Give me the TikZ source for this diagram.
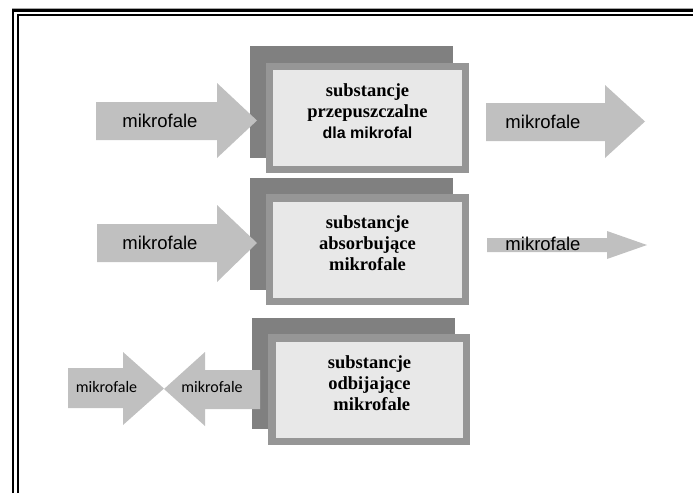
\documentclass[tikz,border=0pt]{standalone}
\usepackage{fontspec}
\setmainfont{Liberation Serif}
\newfontfamily\arialf{Liberation Sans}
\newfontfamily\arialbf{Liberation Sans Bold}
\newfontfamily\calibrif{Carlito}
\definecolor{boxdark}{HTML}{808080}
\definecolor{boxmid}{HTML}{969696}
\definecolor{boxlight}{HTML}{E8E8E8}
\definecolor{arrowgray}{HTML}{C0C0C0}
\tikzset{
  backbox/.style={fill=boxdark, draw=none},
  frontbox/.style={fill=boxmid, draw=none},
  innerbox/.style={fill=boxlight, draw=none},
  wavearrow/.style={fill=arrowgray, draw=none},
  boxtext/.style={align=center, font=\fontsize{18.5}{21}\selectfont\bfseries, inner sep=0pt},
  arrowtext/.style={font=\arialf\fontsize{18.5}{20}\selectfont, inner sep=0pt},
  smallarrowtext/.style={font=\calibrif\fontsize{16}{18}\selectfont, inner sep=0pt},
}
\begin{document}
\begin{tikzpicture}[x=1pt,y=-1pt]
\useasboundingbox (0,0) rectangle (693,493);
% frame
\draw[line width=1pt, gray!70] (12,8) -- (693,8);
\draw[line width=2.5pt, black] (13,493) -- (13,10.5) -- (693,10.5);
\draw[line width=2pt, black] (18,493) -- (18,15) -- (693,15);

% ---------- row 1 ----------
\fill[backbox] (250,46) rectangle (453,158);
\fill[wavearrow] (96,102) -- (217,102) -- (217,83) -- (257,120.5) -- (217,158) -- (217,140) -- (96,140) -- cycle;
\node[arrowtext] (a1in) at (160,121) {mikrofale};
\fill[frontbox] (266,63) rectangle (469,173);
\node[innerbox, minimum width=189pt, minimum height=96pt, inner sep=0pt] (b1) at (367.5,118) {};
\node[boxtext] (t1) at ([yshift=7pt]b1.center) {substancje\\przepuszczalne\\{\arialbf\fontsize{16}{21}\selectfont dla mikrofal}};
\fill[wavearrow] (486,103) -- (605,103) -- (605,85) -- (645,121.5) -- (605,158) -- (605,141) -- (486,141) -- cycle;
\node[arrowtext] (a1out) at (543,122) {mikrofale};

% ---------- row 2 ----------
\fill[backbox] (250,178) rectangle (453,290);
\fill[wavearrow] (97,224) -- (217,224) -- (217,205) -- (257,243) -- (217,282) -- (217,262) -- (97,262) -- cycle;
\node[arrowtext] (a2in) at (160,243) {mikrofale};
\fill[frontbox] (266,194) rectangle (469,305);
\node[innerbox, minimum width=189pt, minimum height=96pt, inner sep=0pt] (b2) at (367.5,250) {};
\node[boxtext] (t2) at ([yshift=7pt]b2.center) {substancje\\absorbujące\\mikrofale};
\fill[wavearrow] (487,238) -- (607,238) -- (607,231) -- (647,245) -- (607,259) -- (607,252) -- (487,252) -- cycle;
\node[arrowtext] (a2out) at (543,244) {mikrofale};

% ---------- row 3 ----------
\fill[backbox] (252,318) rectangle (455,429);
\fill[wavearrow] (68,368) -- (123,368) -- (123,352) -- (164,388.5) -- (123,425) -- (123,408) -- (68,408) -- cycle;
\node[smallarrowtext] (a3out) at (106.5,387) {mikrofale};
\fill[wavearrow] (164,389) -- (205,352) -- (205,370) -- (260,370) -- (260,409) -- (205,409) -- (205,426) -- cycle;
\node[smallarrowtext] (a3in) at (212,387) {mikrofale};
\fill[frontbox] (268,334) rectangle (470,445);
\node[innerbox, minimum width=187pt, minimum height=96pt, inner sep=0pt] (b3) at (369.5,390) {};
\node[boxtext] (t3) at ([yshift=7pt]b3.center) {substancje\\odbijające\\\ mikrofale};
\end{tikzpicture}
\end{document}
